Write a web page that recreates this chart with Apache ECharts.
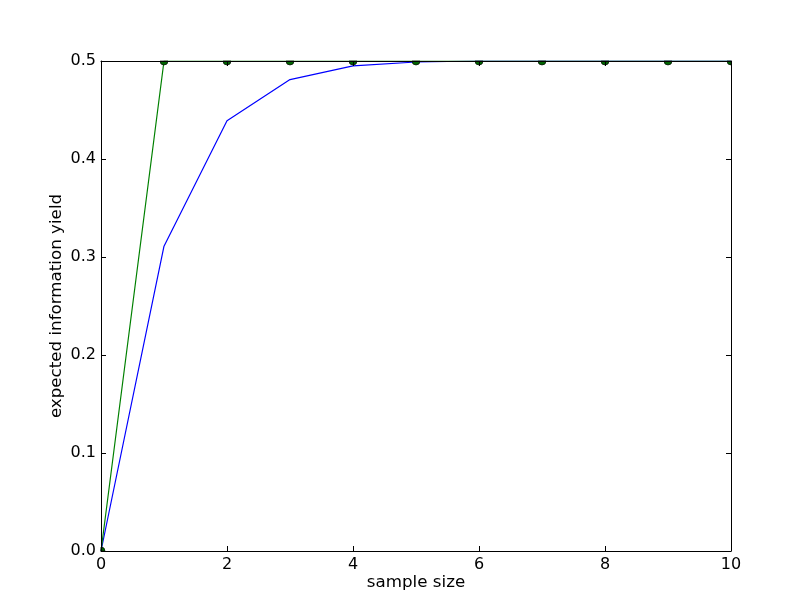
<!DOCTYPE html>
<html>
<head>
<meta charset="utf-8">
<script src="https://cdn.jsdelivr.net/npm/echarts@6/dist/echarts.min.js"></script>
<style>
  html, body { margin: 0; padding: 0; background: #fff; }
</style>
</head>
<body>
<div id="chart" style="width:812px;height:612px"></div>
<script>
// sample sizes on the x axis
const sampleSizes = [0, 1, 2, 3, 4, 5, 6, 7, 8, 9, 10];
// blue curve
const blueYield = [0.0, 0.311, 0.439, 0.481, 0.495, 0.499, 0.5, 0.5, 0.5, 0.5, 0.5];
// green curve with markers
const greenYield = [0.0, 0.5, 0.5, 0.5, 0.5, 0.5, 0.5, 0.5, 0.5, 0.5, 0.5];

const font = "DejaVu Sans";

// markers sit on the frame, matplotlib clips them to half circles
const halfDown = "path://M0,0 A4,4 0 0 0 8,0 Z";
const quarterUpRight = "path://M0,4 L0,0 A4,4 0 0 1 4,4 Z";
const quarterDownLeft = "path://M4,0 L4,4 A4,4 0 0 1 0,0 Z";

const greenData = sampleSizes.map(function (x, i) {
  const item = { value: [x, greenYield[i]] };
  if (i === 0) {
    item.symbol = quarterUpRight; item.symbolSize = [4, 4]; item.symbolOffset = [2, -2];
  } else if (i === sampleSizes.length - 1) {
    item.symbol = quarterDownLeft; item.symbolSize = [4, 4]; item.symbolOffset = [-2, 2];
  }
  return item;
});

const chart = echarts.init(document.getElementById("chart"));
chart.setOption({
  animation: false,
  backgroundColor: "#ffffff",
  grid: { left: 101, right: 81, top: 61, bottom: 61, containLabel: false },
  xAxis: [
    {
      type: "value", min: 0, max: 10, interval: 2,
      name: "sample size", nameLocation: "middle", nameGap: 23,
      nameMoveOverlap: false,
      nameTextStyle: { fontFamily: font, fontSize: 16.7, color: "#000" },
      axisLine: { show: true, onZero: false, lineStyle: { color: "#000", width: 1 } },
      axisTick: { show: true, inside: true, length: 5, lineStyle: { color: "#000" } },
      axisLabel: { fontFamily: font, fontSize: 16, color: "#000", margin: 6 },
      splitLine: { show: false },
      z: 5
    },
    {
      type: "value", min: 0, max: 10, interval: 2, position: "top",
      axisLine: { show: true, onZero: false, lineStyle: { color: "#000", width: 1 } },
      axisTick: { show: true, inside: true, length: 5, lineStyle: { color: "#000" } },
      axisLabel: { show: false },
      splitLine: { show: false },
      z: 5
    }
  ],
  yAxis: [
    {
      type: "value", min: 0, max: 0.5, interval: 0.1,
      name: "expected information yield", nameLocation: "middle", nameGap: 36,
      nameMoveOverlap: false,
      nameTextStyle: { fontFamily: font, fontSize: 16.7, color: "#000" },
      axisLine: { show: true, onZero: false, lineStyle: { color: "#000", width: 1 } },
      axisTick: { show: true, inside: true, length: 5, lineStyle: { color: "#000" } },
      axisLabel: { fontFamily: font, fontSize: 16, color: "#000", margin: 5,
        formatter: function (v) { return v.toFixed(1); } },
      splitLine: { show: false },
      z: 5
    },
    {
      type: "value", min: 0, max: 0.5, interval: 0.1, position: "right",
      axisLine: { show: true, onZero: false, lineStyle: { color: "#000", width: 1 } },
      axisTick: { show: true, inside: true, length: 5, lineStyle: { color: "#000" } },
      axisLabel: { show: false },
      splitLine: { show: false },
      z: 5
    }
  ],
  series: [
    {
      type: "line",
      data: sampleSizes.map(function (x, i) { return [x, blueYield[i]]; }),
      showSymbol: false,
      lineStyle: { color: "#0000ff", width: 1.2 },
      itemStyle: { color: "#0000ff" },
      z: 2
    },
    {
      type: "line",
      data: greenData,
      symbol: halfDown,
      symbolSize: [8, 4],
      symbolOffset: [0, 2],
      symbolKeepAspect: false,
      showAllSymbol: true,
      lineStyle: { color: "#008000", width: 1.2 },
      itemStyle: { color: "#006400", borderColor: "#000", borderWidth: 0.6 },
      z: 3
    }
  ]
});
</script>
</body>
</html>
